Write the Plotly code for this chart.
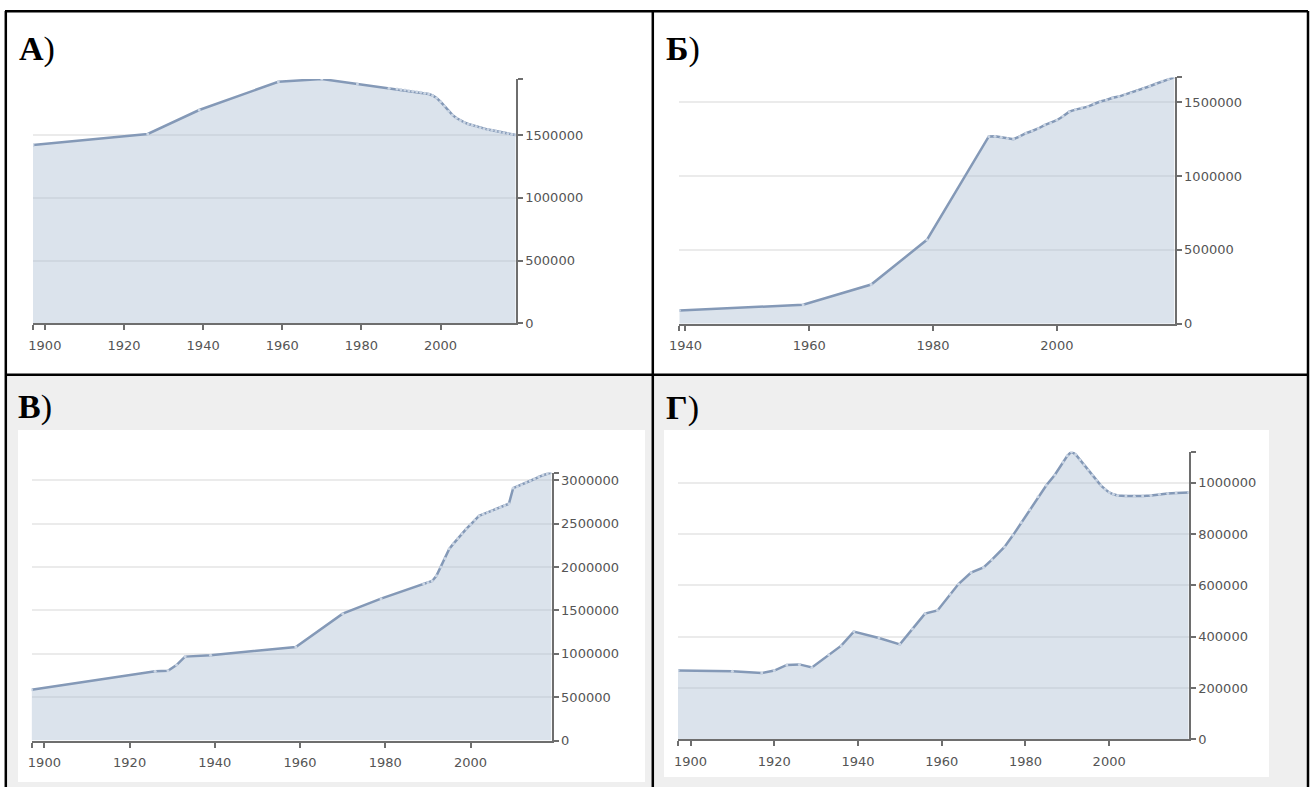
import plotly.graph_objects as go

W, H = 1313, 787

# ---------------- data ----------------
A_years = [1897, 1926, 1939, 1959, 1970, 1979, 1987, 1989, 1990, 1991, 1992, 1993, 1994,
           1995, 1996, 1997, 1998, 1999, 2000, 2001, 2002, 2003, 2004, 2005, 2006, 2007,
           2008, 2009, 2010, 2011, 2012, 2013, 2014, 2015, 2016, 2017, 2018, 2019]
A_pop = [1420000, 1508000, 1699000, 1924000, 1946000, 1906000, 1872000, 1866000, 1862000,
         1858000, 1853000, 1848000, 1844000, 1840000, 1833000, 1826000, 1815000, 1795000,
         1765000, 1730000, 1690000, 1660000, 1635000, 1615000, 1600000, 1588000, 1578000,
         1568000, 1558000, 1550000, 1543000, 1537000, 1531000, 1525000, 1518000, 1512000,
         1506000, 1500000]

B_years = [1939, 1959, 1970, 1979, 1989, 1990, 1991, 1992, 1993, 1994, 1995, 1996, 1997,
           1998, 1999, 2000, 2001, 2002, 2003, 2004, 2005, 2006, 2007, 2008, 2009, 2010,
           2011, 2012, 2013, 2014, 2015, 2016, 2017, 2018, 2019]
B_pop = [90000, 128000, 265000, 568000, 1268000, 1270000, 1262000, 1255000, 1250000,
         1268000, 1290000, 1305000, 1322000, 1345000, 1360000, 1378000, 1405000, 1436000,
         1450000, 1462000, 1470000, 1488000, 1505000, 1515000, 1530000, 1538000, 1552000,
         1563000, 1578000, 1592000, 1608000, 1625000, 1642000, 1655000, 1668000]

V_years = [1897, 1926, 1929, 1931, 1933, 1939, 1959, 1970, 1979, 1989, 1990, 1991, 1992,
           1993, 1994, 1995, 1996, 1997, 1998, 1999, 2000, 2001, 2002, 2003, 2004, 2005,
           2006, 2007, 2008, 2009, 2010, 2011, 2012, 2013, 2014, 2015, 2016, 2017, 2018, 2019]
V_pop = [585000, 800000, 805000, 870000, 968000, 985000, 1078000, 1463000, 1636000, 1808000,
         1822000, 1840000, 1900000, 2000000, 2100000, 2210000, 2270000, 2330000, 2385000,
         2440000, 2490000, 2540000, 2590000, 2610000, 2630000, 2650000, 2670000, 2690000,
         2710000, 2730000, 2910000, 2930000, 2950000, 2975000, 2995000, 3015000, 3040000,
         3060000, 3075000, 3090000]

G_years = [1897, 1910, 1917, 1920, 1923, 1926, 1929, 1933, 1936, 1939, 1945, 1950, 1953,
           1956, 1959, 1962, 1964, 1967, 1970, 1972, 1975, 1977, 1979, 1981, 1983, 1985,
           1987, 1989, 1990, 1991, 1992, 1993, 1994, 1995, 1996, 1997, 1998, 1999, 2000,
           2001, 2002, 2004, 2006, 2008, 2010, 2012, 2014, 2016, 2019]
G_pop = [268000, 265000, 258000, 268000, 290000, 292000, 280000, 330000, 365000, 420000,
         395000, 370000, 430000, 490000, 502000, 565000, 605000, 650000, 670000, 700000,
         750000, 795000, 845000, 895000, 945000, 990000, 1030000, 1080000, 1105000, 1121000,
         1110000, 1090000, 1070000, 1050000, 1030000, 1010000, 990000, 975000, 962000,
         955000, 950000, 948000, 947000, 948000, 950000, 955000, 958000, 960000, 962000]

A_yticks = [0, 500000, 1000000, 1500000]
B_yticks = [0, 500000, 1000000, 1500000]
V_yticks = [0, 500000, 1000000, 1500000, 2000000, 2500000, 3000000]
G_yticks = [0, 200000, 400000, 600000, 800000, 1000000]

A_xticks = [1900, 1920, 1940, 1960, 1980, 2000]
B_xticks = [1940, 1960, 1980, 2000]
V_xticks = [1900, 1920, 1940, 1960, 1980, 2000]
G_xticks = [1900, 1920, 1940, 1960, 1980, 2000]

labels = ["А", "Б", "В", "Г"]

# ---------------- layout helpers ----------------
def px(x):
    return x / W


def py(y):
    return 1 - y / H


LINE = "#8499b7"
FILL = "rgba(170,188,210,0.42)"
AXIS = "#6e6e6e"
TICKFONT = dict(family="DejaVu Sans", size=13, color="#555555")

panels = [
    dict(x=A_years, y=A_pop, xt=A_xticks, yt=A_yticks, xd=(33, 515.7), yd=(323.3, 79),
         lab=(17, 69.5)),
    dict(x=B_years, y=B_pop, xt=B_xticks, yt=B_yticks, xd=(679.3, 1174.5), yd=(323.7, 77.4),
         lab=(664, 69.5)),
    dict(x=V_years, y=V_pop, xt=V_xticks, yt=V_yticks, xd=(31.6, 551.5), yd=(740.6, 472.5),
         lab=(16, 428)),
    dict(x=G_years, y=G_pop, xt=G_xticks, yt=G_yticks, xd=(678, 1188.7), yd=(739.3, 451.7),
         lab=(664, 429)),
]

fig = go.Figure()
layout = {}
for i, p in enumerate(panels, start=1):
    sfx = "" if i == 1 else str(i)
    fig.add_trace(go.Scatter(
        x=p["x"], y=p["y"], mode="lines+markers", fill="tozeroy",
        fillcolor=FILL, line=dict(color=LINE, width=2.5),
        marker=dict(size=3, color="rgba(206,216,230,0.95)"),
        xaxis="x" + sfx, yaxis="y" + sfx, showlegend=False, hoverinfo="x+y"))
    xmin, xmax = min(p["x"]), max(p["x"])
    ymax = max(p["y"])
    layout["xaxis" + sfx] = dict(
        domain=[px(p["xd"][0]), px(p["xd"][1])], range=[xmin, xmax],
        anchor="y" + sfx, showgrid=False, zeroline=False, automargin=False,
        showline=True, linecolor=AXIS, linewidth=2,
        tickmode="array", tickvals=p["xt"], ticktext=[str(v) for v in p["xt"]],
        ticks="outside", ticklen=5, tickwidth=1.5, tickcolor=AXIS,
        ticklabelstandoff=4, tickfont=TICKFONT,
        minor=dict(tickmode="array", tickvals=[xmin], ticks="outside", ticklen=5,
                   tickwidth=1.5, tickcolor=AXIS, showgrid=False),
    )
    layout["yaxis" + sfx] = dict(
        domain=[py(p["yd"][0]), py(p["yd"][1])], range=[0, ymax],
        anchor="x" + sfx, side="right", zeroline=False, automargin=False,
        showgrid=True, gridcolor="#ebebeb", gridwidth=2,
        showline=True, linecolor=AXIS, linewidth=2,
        tickmode="array", tickvals=p["yt"], ticktext=[str(v) for v in p["yt"]],
        ticks="outside", ticklen=5, tickwidth=1.5, tickcolor=AXIS, tickfont=TICKFONT,
        minor=dict(tickmode="array", tickvals=[ymax], ticks="outside", ticklen=5,
                   tickwidth=1.5, tickcolor=AXIS, showgrid=False),
    )

shapes = []
# bottom row cell background (grey) and white chart areas
shapes.append(dict(type="rect", xref="paper", yref="paper", layer="below",
                   x0=px(5), x1=px(1308), y0=py(787), y1=py(375),
                   fillcolor="#efefef", line=dict(width=0)))
shapes.append(dict(type="rect", xref="paper", yref="paper", layer="below",
                   x0=px(18), x1=px(645), y0=py(782), y1=py(430),
                   fillcolor="#ffffff", line=dict(width=0)))
shapes.append(dict(type="rect", xref="paper", yref="paper", layer="below",
                   x0=px(664), x1=px(1269), y0=py(777), y1=py(430),
                   fillcolor="#ffffff", line=dict(width=0)))
# table borders
border = dict(color="#000000", width=2.5)
for (x0, y0, x1, y1) in [(5, 11.3, 1308, 11.3), (5.8, 11, 5.8, 787), (1308, 11, 1308, 787),
                         (652.8, 11, 652.8, 787), (5, 374.7, 1308, 374.7)]:
    shapes.append(dict(type="line", xref="paper", yref="paper", layer="above",
                       x0=px(x0), x1=px(x1), y0=py(y0), y1=py(y1), line=border))

annotations = []
for lab, p in zip(labels, panels):
    annotations.append(dict(
        text="<b>" + lab + "</b>)", xref="paper", yref="paper",
        x=px(p["lab"][0]), y=py(p["lab"][1]), xanchor="left", yanchor="bottom",
        showarrow=False, font=dict(family="Liberation Serif", size=34, color="#000000")))

fig.update_layout(
    width=W, height=H, margin=dict(l=0, r=0, t=0, b=0, pad=0, autoexpand=False),
    paper_bgcolor="#ffffff", plot_bgcolor="rgba(0,0,0,0)",
    shapes=shapes, annotations=annotations, **layout)

post = (
    "document.documentElement.style.margin='0';"
    "document.documentElement.style.overflow='hidden';"
    "document.body.style.margin='0';"
    "document.body.style.padding='0';"
    "document.body.style.overflow='hidden';"
    "var gd=document.getElementById('{plot_id}');"
    "if(gd){gd.style.position='fixed';gd.style.left='0px';gd.style.top='0px';}"
)

fig.write_html("out.html", config={"displayModeBar": False}, post_script=post)
